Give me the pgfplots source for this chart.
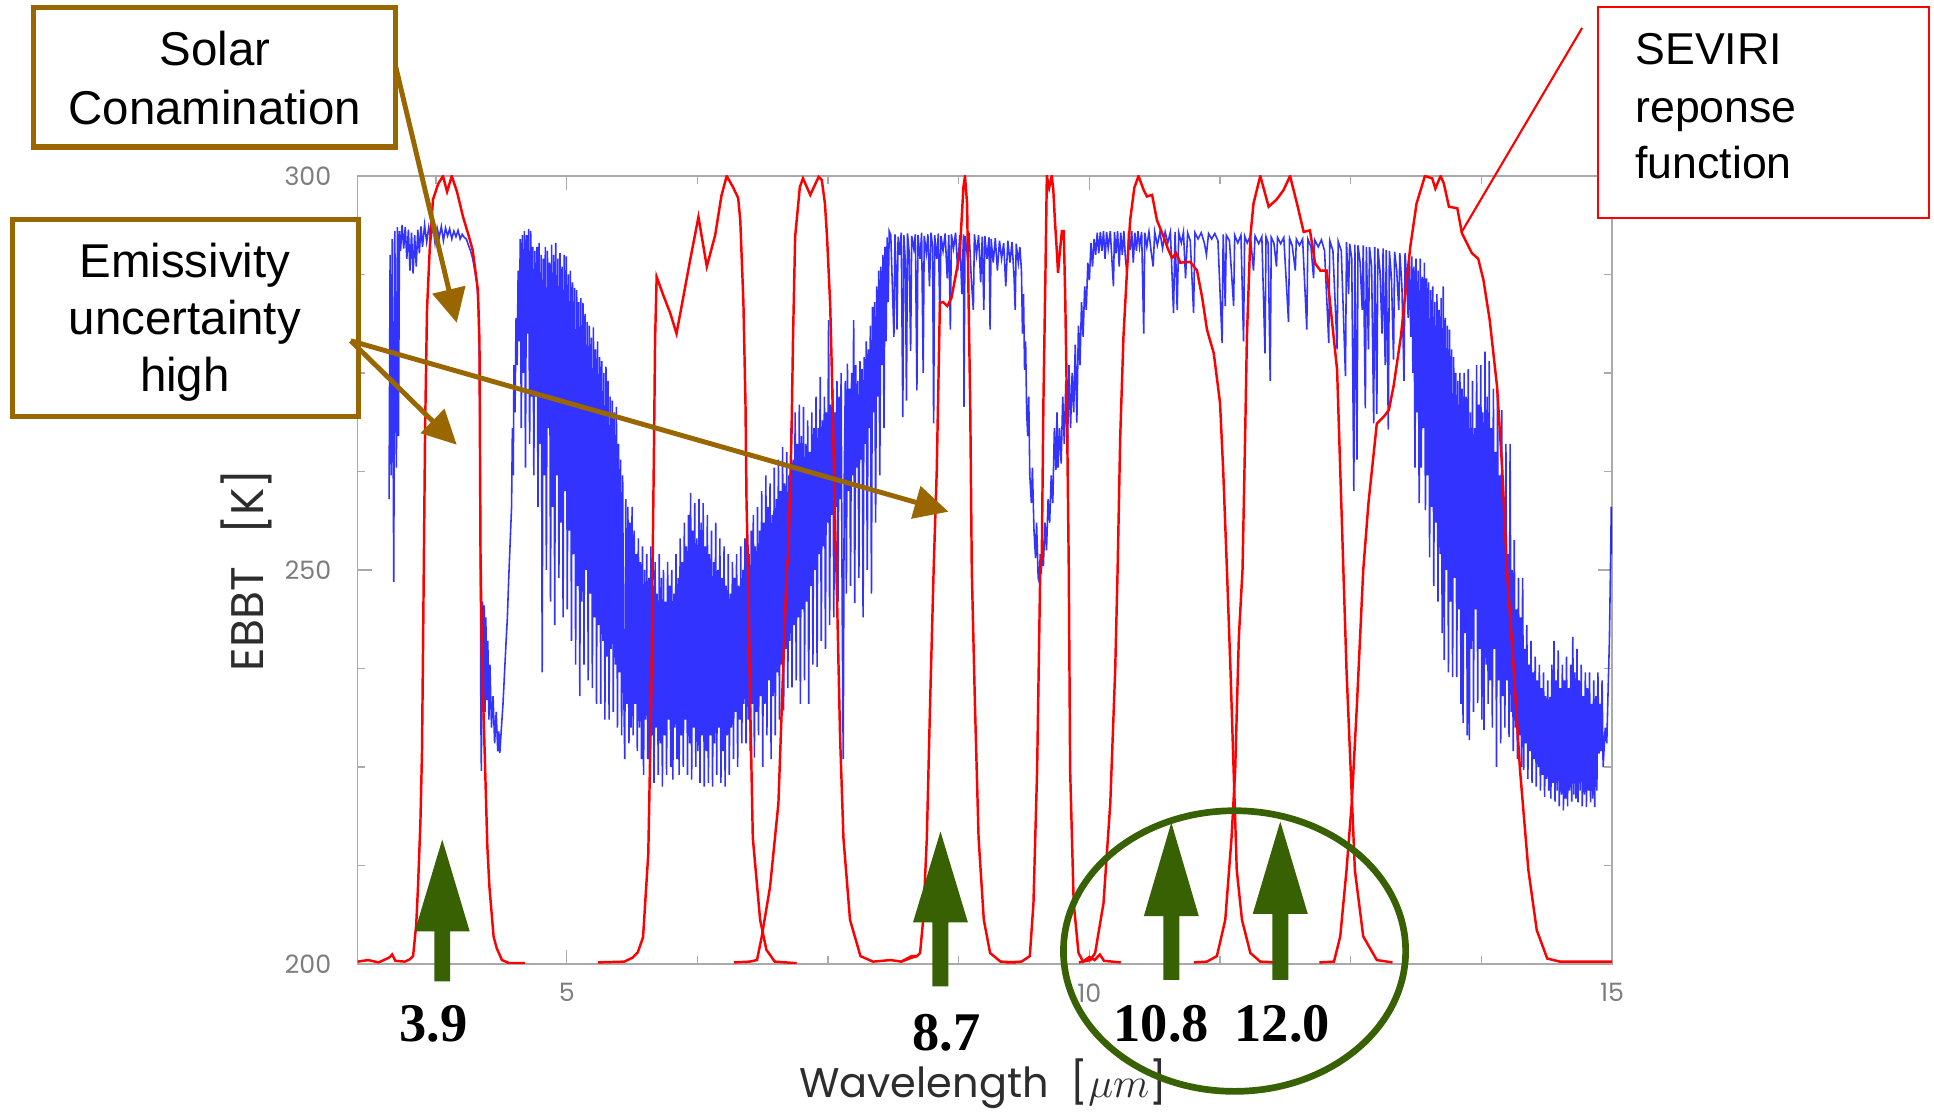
\documentclass[border=0pt]{standalone}
\usepackage{fontspec}
\setmainfont{Liberation Sans}
\newfontfamily\tnr{Liberation Serif}
\newfontfamily\gothic{Poppins}
\usepackage{pgfplots}
\pgfplotsset{compat=1.18}
\usetikzlibrary{arrows.meta}

\definecolor{brn}{RGB}{153,102,0}
\definecolor{grn}{RGB}{56,97,4}
\definecolor{framegray}{RGB}{170,170,170}
\definecolor{tickgray}{RGB}{125,125,125}
\definecolor{labgray}{RGB}{45,45,45}

% green arrow: centre x, tip y, head base y, bottom y (pixel units, y down)
\newcommand{\garrow}[4]{%
  \fill[grn] (#1-8,#4) -- (#1-8,#3) -- (#1-27.5,#3) -- (#1,#2) -- (#1+27.5,#3) -- (#1+8,#3) -- (#1+8,#4) -- cycle;}

\begin{document}
\begin{tikzpicture}
\begin{axis}[
  at={(3.577cm,1.48cm)}, anchor=south west,
  scale only axis, width=12.543cm, height=7.88cm,
  xmin=3, xmax=15, ymin=200, ymax=300,
  axis line style={framegray, line width=0.4pt},
  xtick={5,10,15}, xticklabels={5,10,15},
  minor xtick={3.75,6.25,7.5,8.75,11.25,12.5,13.75},
  ytick={200,250,300}, yticklabels={200,250,300},
  minor ytick={212.5,225,237.5,262.5,275,287.5},
  tick align=inside,
  major tick length=4pt, minor tick length=2.2pt,
  tick style={framegray, line width=0.4pt},
  /pgf/number format/assume math mode=true,
  ticklabel style={font=\gothic\fontsize{7.2}{8}\selectfont, text=tickgray},
  yticklabel style={xshift=-4pt},
  xticklabel style={yshift=-2pt},
  xlabel={Wavelength\ \ [$\mu m$]},
  ylabel={EBBT\hspace{0.7em}[K]},
  ylabel style={font=\gothic\fontsize{13}{15}\selectfont, text=labgray,
    at={(axis description cs:-0.089,0.5)}, anchor=center},
  xlabel style={font=\gothic\fontsize{11.8}{14}\selectfont, text=labgray,
    at={(axis description cs:0.4985,-0.1688)}, anchor=base},
]
% spectrum (blue)
\addplot[blue, opacity=0.8, line width=0.45pt] coordinates {
(3.300,259) (3.310,290) (3.320,262) (3.330,292) (3.345,248.5) (3.355,293) (3.370,263) (3.380,293.5) (3.390,267) (3.400,293)
(3.410,290.5) (3.425,293.8) (3.440,290.8) (3.455,293.5) (3.470,289.5) (3.485,293.2) (3.500,288) (3.515,292.8) (3.530,287.6) (3.545,292.5)
(3.560,288.5) (3.575,293.2) (3.590,290.2) (3.605,293.6) (3.620,291) (3.640,293.8) (3.660,291.6) (3.680,293.5) (3.700,292) (3.720,293.7)
(3.740,291.5) (3.760,293.4) (3.780,292.2) (3.800,293.6) (3.820,291.8) (3.840,293.4) (3.860,292.4) (3.880,293.3) (3.900,292) (3.920,293)
(3.940,292.3) (3.960,293.1) (3.980,292) (4.000,292.6) (4.020,292.2) (4.040,292) (4.060,291.2) (4.080,290.5) (4.100,289.5) (4.120,288)
(4.140,286.5) (4.155,283) (4.165,276) (4.172,262) (4.178,232) (4.183,224.5) (4.188,240) (4.195,246) (4.202,236) (4.210,245.5)
(4.218,232) (4.226,244) (4.235,233.5) (4.245,241) (4.255,231) (4.265,238) (4.280,230) (4.295,234) (4.310,228) (4.325,232)
(4.340,227) (4.350,229.5) (4.360,226.8) (4.375,230) (4.390,233) (4.405,237) (4.420,241) (4.432,244) (4.445,249) (4.460,254)
(4.472,258) (4.480,268) (4.488,262) (4.495,276) (4.505,270) (4.515,282) (4.525,276) (4.535,288) (4.545,279) (4.555,292)
(4.565,268) (4.575,292.5) (4.585,275) (4.595,293) (4.605,263) (4.615,292.5) (4.625,280) (4.635,293.3) (4.645,266) (4.655,293)
(4.665,272) (4.675,291) (4.685,262) (4.695,290.5) (4.705,272) (4.715,291) (4.725,258) (4.735,291.5) (4.745,266) (4.755,290)
(4.765,237) (4.775,289.5) (4.785,262) (4.795,291) (4.805,250) (4.815,290.5) (4.825,268) (4.835,289) (4.845,246) (4.855,291.3)
(4.865,258) (4.875,290) (4.885,243) (4.895,291.5) (4.905,262) (4.915,289.5) (4.925,249) (4.935,290.2) (4.945,256) (4.955,288.5)
(4.965,244) (4.975,290) (4.985,260) (4.995,289.8) (5.005,245) (5.015,287.5) (5.025,255) (5.035,288) (5.045,241) (5.055,286.5)
(5.065,252) (5.075,285.8) (5.085,238) (5.095,285.5) (5.105,248) (5.115,284) (5.125,234) (5.135,284.5) (5.145,246) (5.155,283.9)
(5.165,238) (5.175,282.5) (5.185,250) (5.195,281.5) (5.205,236) (5.215,281) (5.225,247) (5.235,279.5) (5.245,235) (5.255,280.8)
(5.265,244) (5.275,278) (5.285,233) (5.295,279) (5.305,243) (5.315,277) (5.325,233) (5.335,276.5) (5.345,241) (5.355,275)
(5.365,231) (5.375,275.8) (5.385,239) (5.395,274) (5.405,231) (5.415,272) (5.425,240) (5.435,271.5) (5.445,232) (5.455,270)
(5.465,238) (5.475,270.7) (5.485,230) (5.495,266) (5.505,237) (5.515,264) (5.525,229) (5.535,262) (5.545,235) (5.555,226)
(5.565,259) (5.575,233) (5.585,258) (5.595,228) (5.605,256) (5.615,230) (5.625,258) (5.635,229) (5.645,255) (5.655,233)
(5.665,252) (5.675,227) (5.685,254) (5.695,230) (5.705,251) (5.715,226) (5.725,253) (5.735,224) (5.745,250) (5.755,231)
(5.765,252) (5.775,226) (5.785,249) (5.795,224) (5.805,253) (5.815,229) (5.825,248) (5.835,223) (5.845,251) (5.855,230)
(5.865,247) (5.875,224) (5.885,252) (5.895,228) (5.905,249) (5.915,222.5) (5.925,250) (5.935,229) (5.945,246) (5.955,224)
(5.965,251) (5.975,231) (5.985,248) (5.995,225) (6.005,250) (6.015,223.4) (6.025,247) (6.035,230) (6.045,252) (6.055,226)
(6.065,249) (6.075,224) (6.085,254) (6.095,229) (6.105,251) (6.115,225) (6.125,256) (6.135,231) (6.145,253) (6.155,224)
(6.165,257) (6.175,228) (6.185,259.8) (6.195,223.4) (6.205,255) (6.215,230) (6.225,258.5) (6.235,225) (6.245,254) (6.255,227)
(6.265,259) (6.275,223) (6.285,256) (6.295,229) (6.305,258.5) (6.315,222.5) (6.325,253) (6.335,227) (6.345,257) (6.355,223)
(6.365,252) (6.375,229) (6.385,255) (6.395,222.5) (6.405,251) (6.415,228) (6.425,256) (6.435,224) (6.445,250) (6.455,230)
(6.465,254) (6.475,223) (6.485,249) (6.495,227) (6.505,253) (6.515,222.5) (6.525,248) (6.535,229) (6.545,252) (6.555,224)
(6.565,247) (6.575,230) (6.585,251) (6.595,226) (6.605,249) (6.615,232) (6.625,252) (6.635,225) (6.645,248) (6.655,231)
(6.665,253) (6.675,228) (6.685,250) (6.695,233) (6.705,254) (6.715,228) (6.725,256.3) (6.735,231) (6.745,252) (6.755,227)
(6.765,255) (6.775,233) (6.785,257) (6.795,226.2) (6.805,253) (6.815,232) (6.825,258) (6.835,229) (6.845,255) (6.855,234)
(6.865,260) (6.875,225) (6.885,256) (6.895,233) (6.905,262) (6.915,229) (6.925,258) (6.935,236) (6.945,261) (6.955,226)
(6.965,257) (6.975,234) (6.985,263) (6.995,229) (7.005,259) (7.015,237) (7.025,264) (7.035,231) (7.045,260) (7.055,238)
(7.065,265.6) (7.075,232.2) (7.085,261) (7.095,240) (7.105,265) (7.115,235) (7.125,262) (7.135,241) (7.145,268) (7.155,235.1)
(7.165,264) (7.175,243) (7.185,270) (7.195,236) (7.205,266) (7.215,244) (7.225,271) (7.235,233) (7.245,267) (7.255,245)
(7.265,270.7) (7.275,236) (7.285,266) (7.295,246) (7.305,269) (7.315,233) (7.325,265) (7.335,248) (7.345,270) (7.355,238)
(7.365,268) (7.375,250) (7.385,272) (7.395,237.7) (7.405,268) (7.415,252) (7.425,274.5) (7.435,241) (7.445,269) (7.455,253)
(7.465,272) (7.475,240) (7.485,270) (7.495,256) (7.505,281.7) (7.515,243) (7.525,271) (7.535,257) (7.545,273) (7.555,244)
(7.565,270) (7.575,258) (7.585,274) (7.595,246) (7.605,272) (7.615,259) (7.625,275) (7.635,245) (7.645,226) (7.655,262)
(7.665,274) (7.675,247) (7.685,276.2) (7.695,260) (7.705,273) (7.715,248) (7.725,275) (7.735,262) (7.745,281.7) (7.755,245.8)
(7.765,276) (7.775,263) (7.785,274) (7.795,249) (7.805,276.5) (7.815,264) (7.825,275.5) (7.835,244) (7.845,277) (7.855,266)
(7.865,279) (7.875,250) (7.885,278) (7.895,268) (7.905,281) (7.915,247) (7.925,283.4) (7.935,270) (7.945,284) (7.955,256)
(7.965,286) (7.975,272) (7.985,288) (7.995,262) (8.005,288.5) (8.015,276) (8.025,290) (8.035,268) (8.045,291) (8.055,279)
(8.065,292.2) (8.075,284) (8.085,293) (8.100,292.5) (8.115,286) (8.130,279.6) (8.140,292.6) (8.150,288) (8.160,280.5) (8.170,292.3)
(8.185,290) (8.200,292.8) (8.215,269.4) (8.225,292.5) (8.240,289) (8.250,271.5) (8.260,292.7) (8.275,290.5) (8.290,277.8) (8.300,292.4)
(8.320,290.8) (8.335,292.6) (8.350,272.8) (8.360,292.5) (8.380,289.5) (8.395,292.8) (8.410,275) (8.420,292.4) (8.440,290.2) (8.455,292.6)
(8.470,286) (8.485,292.8) (8.500,291) (8.510,268.6) (8.520,292.5) (8.540,289.5) (8.555,292.7) (8.570,281.7) (8.580,292.4) (8.600,290.5)
(8.620,292.7) (8.640,287) (8.655,292.5) (8.670,280.5) (8.680,292.6) (8.700,290.8) (8.720,292.8) (8.740,288) (8.760,292.5) (8.780,285)
(8.795,292.6) (8.800,270.7) (8.810,292.4) (8.830,290.2) (8.850,292.8) (8.870,287) (8.890,283) (8.900,292.6) (8.920,290) (8.940,292.5)
(8.960,286.5) (8.975,292.3) (8.990,283) (9.000,292.4) (9.020,289.5) (9.040,292.2) (9.050,280.5) (9.060,292) (9.080,289) (9.100,292.1)
(9.120,288) (9.140,291.8) (9.160,289.5) (9.180,291.5) (9.200,286) (9.220,291.8) (9.240,289) (9.260,291.6) (9.280,287) (9.290,283)
(9.300,291.4) (9.320,289) (9.335,291) (9.350,288) (9.360,280) (9.370,285) (9.380,275.4) (9.390,279) (9.400,270) (9.410,267)
(9.420,272) (9.430,262) (9.445,258.5) (9.455,263) (9.470,255) (9.485,251.5) (9.495,256) (9.510,249) (9.520,248.5) (9.530,252)
(9.540,249.5) (9.550,254) (9.560,250.5) (9.575,256) (9.590,252.5) (9.605,259) (9.620,256) (9.635,262) (9.650,258.5) (9.665,268)
(9.680,262.7) (9.690,270) (9.700,263) (9.715,268) (9.730,263.5) (9.745,272) (9.760,266) (9.775,274) (9.790,264.8) (9.805,276)
(9.820,268) (9.835,275) (9.850,270) (9.865,278.6) (9.880,268.7) (9.895,281) (9.910,276) (9.925,284) (9.940,279.6) (9.955,286)
(9.970,283) (9.985,289) (10.000,286.8) (10.015,291.5) (10.030,288.5) (10.045,292) (10.060,290) (10.075,292.8) (10.090,290.2) (10.105,292.9)
(10.120,290.5) (10.135,293) (10.150,289.5) (10.165,292.9) (10.180,290.8) (10.200,293) (10.215,289.5) (10.230,286) (10.240,292.9) (10.255,290.2)
(10.270,293) (10.285,288.5) (10.300,292.8) (10.315,290) (10.330,293) (10.345,289.5) (10.360,287.5) (10.375,292.9) (10.390,290.6) (10.405,293)
(10.420,289) (10.435,292.8) (10.450,290.5) (10.465,293) (10.480,291) (10.500,292.9) (10.520,280) (10.530,292.8) (10.550,291) (10.570,292.9)
(10.590,290.5) (10.610,288.5) (10.625,292.9) (10.650,291.2) (10.675,292.9) (10.700,290.8) (10.725,292.9) (10.750,291.5) (10.775,292.9) (10.805,282.6)
(10.820,292.9) (10.840,283) (10.855,292.8) (10.880,291.5) (10.900,292.9) (10.920,287) (10.940,292.8) (10.965,291.8) (10.997,282.6) (11.010,292.8)
(11.040,292) (11.070,292.8) (11.100,291.5) (11.120,290) (11.140,292.7) (11.170,292) (11.200,292.7) (11.230,291.8) (11.270,278.8) (11.280,292.6)
(11.300,283.5) (11.310,292.5) (11.340,291.8) (11.380,283.5) (11.390,292.5) (11.420,291.5) (11.450,292.5) (11.475,279) (11.485,292.4) (11.510,291.5)
(11.540,292.4) (11.570,288) (11.585,292.4) (11.620,291.4) (11.650,292.3) (11.680,277.5) (11.690,292.3) (11.710,291.5) (11.730,274) (11.740,292.2)
(11.765,291.5) (11.790,288.5) (11.800,292.2) (11.830,291.4) (11.860,292.2) (11.905,281.5) (11.915,292.1) (11.940,291.2) (11.970,288) (11.980,292)
(12.010,291.2) (12.040,292) (12.080,280.5) (12.090,292) (12.120,291) (12.145,287) (12.155,291.9) (12.190,291) (12.220,291.9) (12.250,290.5)
(12.290,278.8) (12.300,291.8) (12.330,290.5) (12.370,278) (12.380,291.7) (12.410,290.5) (12.450,274.6) (12.460,291.6) (12.480,285) (12.490,291.4)
(12.510,289.5) (12.530,260) (12.540,291.3) (12.560,264) (12.570,291.2) (12.590,289) (12.610,283) (12.620,291.2) (12.640,270.5) (12.650,291)
(12.670,278) (12.680,291) (12.700,288.5) (12.720,268.6) (12.730,291) (12.750,269.8) (12.760,290.8) (12.780,288) (12.800,280) (12.810,290.8)
(12.830,276) (12.840,290.6) (12.860,267.8) (12.870,290.5) (12.890,287) (12.910,276.7) (12.920,290.4) (12.940,288) (12.960,283) (12.970,290.2)
(12.990,286) (13.010,274) (13.020,290.2) (13.035,287) (13.050,282) (13.060,290) (13.075,279.6) (13.085,289.8) (13.095,275) (13.105,288.5)
(13.115,263) (13.125,289.5) (13.135,270) (13.145,288) (13.155,258.5) (13.165,289.5) (13.175,263) (13.185,287.2) (13.195,268) (13.205,289)
(13.215,257.6) (13.225,287) (13.235,262) (13.245,286.5) (13.255,251.6) (13.265,285.5) (13.275,258) (13.285,286) (13.295,248) (13.305,284)
(13.315,256) (13.325,285) (13.335,246) (13.345,283) (13.355,252) (13.365,284.5) (13.375,242) (13.385,286) (13.395,238.6) (13.405,282)
(13.415,250) (13.425,281) (13.435,237) (13.445,280.5) (13.455,246) (13.465,278) (13.475,236.4) (13.485,277) (13.495,249) (13.505,275)
(13.515,236.4) (13.525,274) (13.535,245) (13.545,275) (13.555,233) (13.565,273) (13.575,230.6) (13.585,275) (13.595,242) (13.605,272)
(13.615,229) (13.625,275.5) (13.635,228.4) (13.645,270) (13.655,240) (13.665,274) (13.675,232) (13.685,268) (13.695,245) (13.705,276)
(13.715,233.1) (13.725,271) (13.735,240) (13.745,276) (13.755,231) (13.765,270) (13.775,229.7) (13.785,277.7) (13.795,238) (13.805,272)
(13.815,233) (13.825,276.5) (13.835,236) (13.845,268) (13.855,230) (13.865,273) (13.875,240) (13.885,265) (13.895,225) (13.905,273)
(13.915,236) (13.925,262) (13.935,228) (13.945,270.3) (13.955,234) (13.965,258) (13.975,230) (13.985,266) (13.995,236) (14.005,252)
(14.015,228.8) (14.025,266) (14.035,232) (14.045,250) (14.055,227) (14.065,253.8) (14.075,230) (14.085,245) (14.095,226) (14.105,249)
(14.115,229) (14.125,244) (14.135,225) (14.145,249) (14.155,224.6) (14.165,240) (14.175,228) (14.185,243) (14.195,223.5) (14.205,238)
(14.215,227) (14.225,241) (14.235,223) (14.245,237) (14.255,226) (14.265,239) (14.275,222.5) (14.285,236) (14.295,225) (14.305,238)
(14.315,222) (14.325,235) (14.335,224) (14.345,237) (14.355,221.2) (14.365,234) (14.375,223.5) (14.385,236) (14.395,222) (14.405,233.9)
(14.415,221) (14.425,238) (14.435,223) (14.445,241) (14.455,220.6) (14.465,236) (14.475,222) (14.485,239.8) (14.495,220) (14.505,235)
(14.515,221.5) (14.525,238) (14.535,219.5) (14.545,236) (14.555,221) (14.565,239) (14.575,220) (14.585,235) (14.595,222) (14.605,238)
(14.615,220.6) (14.625,241.5) (14.635,221.5) (14.645,237) (14.655,221) (14.665,240) (14.675,220.5) (14.685,236) (14.695,222) (14.705,238)
(14.715,220) (14.725,234) (14.735,221.5) (14.745,237) (14.755,219.9) (14.765,235) (14.775,222) (14.785,237) (14.795,220.5) (14.805,233)
(14.815,221) (14.825,236) (14.835,219.9) (14.845,234) (14.855,222) (14.865,237) (14.875,226.7) (14.885,233) (14.895,227) (14.905,236)
(14.915,225) (14.935,230) (14.950,228) (14.965,236) (14.975,241) (14.985,250) (14.993,258) (15.000,252)
};
% SEVIRI spectral response functions (red)
\addplot[red, line width=0.7pt] coordinates {
(3.00,200.3) (3.10,200.5) (3.20,200.2) (3.30,200.8) (3.33,201.2) (3.36,200.4) (3.45,200.3) (3.50,200.6) (3.53,201) (3.56,205)
(3.577,209.8) (3.60,218) (3.615,226.8) (3.625,240) (3.635,254) (3.645,268) (3.663,283) (3.69,291) (3.72,297) (3.77,299)
(3.816,300) (3.855,298) (3.90,300) (3.95,298) (4.008,294.8) (4.06,292.5) (4.10,290.6) (4.15,285.5) (4.165,279) (4.17,265)
(4.175,252) (4.19,238) (4.215,226.8) (4.24,215) (4.26,209.8) (4.30,203.5) (4.33,202) (4.38,200.5) (4.45,200.1) (4.60,200.1)
};
\addplot[red, line width=0.7pt] coordinates {
(5.30,200.2) (5.55,200.3) (5.63,200.8) (5.68,201.5) (5.73,203.4) (5.78,214) (5.81,235) (5.826,256) (5.835,266) (5.845,279.2)
(5.86,287.2) (5.92,285) (5.99,282.6) (6.05,280) (6.12,285) (6.18,289.3) (6.26,294.8) (6.34,288.5) (6.42,292.5) (6.48,297.5)
(6.53,300) (6.59,298.6) (6.64,297.2) (6.66,294.4) (6.69,284) (6.71,271) (6.72,258.5) (6.735,250) (6.755,233) (6.78,216)
(6.85,205.6) (6.91,201.8) (6.99,200.3) (7.20,200.1)
};
\addplot[red, line width=0.7pt] coordinates {
(6.60,200.2) (6.75,200.3) (6.82,200.5) (6.866,203.5) (6.945,209.8) (7.025,220.4) (7.07,237.3) (7.105,250) (7.12,252) (7.15,267)
(7.165,279.6) (7.185,292.3) (7.23,298.6) (7.26,299.7) (7.33,297.6) (7.41,299.9) (7.44,299.5) (7.47,296.5) (7.49,292.3) (7.52,283.8)
(7.536,275.4) (7.55,266.9) (7.57,254.2) (7.58,250) (7.615,228.8) (7.647,216) (7.71,205.6) (7.81,201) (7.93,200.3) (8.10,200.5)
(8.20,200.3) (8.30,201) (8.35,201)
};
\addplot[red, line width=0.7pt] coordinates {
(8.20,200.3) (8.30,200.8) (8.35,201) (8.38,201.4) (8.41,205.6) (8.445,216) (8.476,233) (8.51,250) (8.54,262.7) (8.57,283.9)
(8.60,284) (8.64,283.5) (8.68,284.5) (8.73,288) (8.76,290.2) (8.795,298.6) (8.81,300) (8.83,296.5) (8.84,288) (8.86,271)
(8.875,250) (8.905,233) (8.94,216) (8.99,205.6) (9.05,201.4) (9.15,200.3) (9.30,200.2)
};
\addplot[red, line width=0.7pt] coordinates {
(9.20,200.2) (9.35,200.3) (9.43,201) (9.465,207.7) (9.50,224.6) (9.53,250) (9.545,252) (9.56,271) (9.58,288) (9.593,300)
(9.615,298.5) (9.64,300) (9.655,298.2) (9.67,294.4) (9.69,290.2) (9.70,287.7) (9.715,290) (9.737,293) (9.755,293) (9.77,283.8)
(9.785,271) (9.803,250) (9.816,224.6) (9.85,207.7) (9.896,201.4) (9.94,200.3) (10.00,200.9) (10.05,200.5) (10.10,201.2) (10.14,200.4)
(10.30,200.2)
};
\addplot[red, line width=0.7pt] coordinates {
(9.90,200.2) (10.01,200.5) (10.055,201.4) (10.135,207.7) (10.20,220.4) (10.247,237.3) (10.27,250) (10.295,266.9) (10.326,279.6) (10.36,288)
(10.39,294.4) (10.43,298.5) (10.47,300) (10.52,298.2) (10.55,297.4) (10.60,297.6) (10.646,294.4) (10.71,292.3) (10.75,290.8) (10.79,289.6)
(10.83,290.2) (10.87,289) (10.965,289.1) (11.03,288) (11.08,284.5) (11.125,280.5) (11.19,277.5) (11.25,271.2) (11.28,262.7) (11.316,250)
(11.35,237.3) (11.38,224.6) (11.41,211.9) (11.46,205.6) (11.54,201.4) (11.635,200.3) (11.80,200.2)
};
\addplot[red, line width=0.7pt] coordinates {
(11.00,200.2) (11.125,200.3) (11.22,201) (11.30,205.6) (11.36,216) (11.395,224.6) (11.43,241.5) (11.465,250) (11.49,266.9) (11.507,279.6)
(11.54,292.3) (11.57,296.5) (11.635,300) (11.715,296.1) (11.79,297) (11.857,298.2) (11.92,300) (11.986,296.5) (12.05,292.9) (12.11,293.1)
(12.16,288.9) (12.21,288) (12.27,288) (12.32,281.7) (12.37,275.4) (12.40,262.7) (12.43,250) (12.46,237.3) (12.50,224.6) (12.54,211.9)
(12.62,203.5) (12.75,200.5) (12.90,200.2)
};
\addplot[red, line width=0.7pt] coordinates {
(12.20,200.2) (12.34,200.3) (12.40,203.5) (12.46,211.9) (12.51,220.4) (12.56,233) (12.62,250) (12.67,258.5) (12.72,264.8) (12.75,268.6)
(12.82,269.5) (12.865,270.3) (12.91,273.3) (12.98,279.6) (13.03,286) (13.07,291) (13.13,296.5) (13.21,300) (13.28,299.7) (13.31,298.4)
(13.36,300) (13.39,299.1) (13.44,296.1) (13.52,295.9) (13.565,292.7) (13.66,290.2) (13.72,289.5) (13.77,286.8) (13.83,281.7) (13.90,273.3)
(13.95,262.7) (13.995,250) (14.06,237.3) (14.12,224.6) (14.20,211.9) (14.28,204.3) (14.38,200.7) (14.50,200.3) (15.00,200.3)
};
\end{axis}

% annotations, in pixel units of the 1934x1112 canvas (y downwards)
\begin{scope}[yshift=11.12cm, x=0.01cm, y=-0.01cm]
  \draw[brn, line width=1.5pt, fill=white] (33.3,7.3) rectangle (396,147);
  \node[anchor=base, font=\fontsize{13.5}{16}\selectfont] at (215,66) {Solar};
  \node[anchor=base, font=\fontsize{13.5}{16}\selectfont] at (215,125) {Conamination};
  \draw[brn, line width=1.5pt, fill=white] (12.7,219.3) rectangle (358.7,416.7);
  \node[anchor=base, font=\fontsize{13.5}{16}\selectfont] at (185,278) {Emissivity};
  \node[anchor=base, font=\fontsize{13.5}{16}\selectfont] at (185,335) {uncertainty};
  \node[anchor=base, font=\fontsize{13.5}{16}\selectfont] at (185,392) {high};
  \draw[brn, line width=1.4pt, -{Triangle[length=0.34cm, width=0.33cm]}] (396,67) -- (457,323);
  \draw[brn, line width=1.4pt, -{Triangle[length=0.34cm, width=0.33cm]}] (351,341) -- (457,445);
  \draw[brn, line width=1.4pt, -{Triangle[length=0.34cm, width=0.33cm]}] (351,341) -- (949,512);

  \draw[red, line width=0.6pt, fill=white] (1599,7) rectangle (1930.5,218.5);
  \draw[red, line width=0.6pt] (1583,28) -- (1462,233);
  \node[anchor=base west, font=\fontsize{12.7}{15}\selectfont] at (1624,65) {SEVIRI};
  \node[anchor=base west, font=\fontsize{12.7}{15}\selectfont] at (1624,123) {reponse};
  \node[anchor=base west, font=\fontsize{12.7}{15}\selectfont] at (1624,178.5) {function};

  \garrow{442.5}{840}{932}{982}
  \garrow{941}{832}{923}{987}
  \garrow{1172}{823}{916.7}{980.5}
  \garrow{1281}{822}{914.3}{980.5}
  \draw[grn, line width=1.9pt] (1235.25,951.6) ellipse [x radius=171.2, y radius=140.4];
  \node[font=\tnr\bfseries\fontsize{15.5}{18}\selectfont] at (434,1024) {3.9};
  \node[font=\tnr\bfseries\fontsize{15.5}{18}\selectfont] at (947,1033.6) {8.7};
  \node[font=\tnr\bfseries\fontsize{15.5}{18}\selectfont] at (1162,1024) {10.8};
  \node[font=\tnr\bfseries\fontsize{15.5}{18}\selectfont] at (1283,1024) {12.0};
\end{scope}
\pgfresetboundingbox
\useasboundingbox (0,0) rectangle (19.34cm,11.12cm);
\end{tikzpicture}
\end{document}
